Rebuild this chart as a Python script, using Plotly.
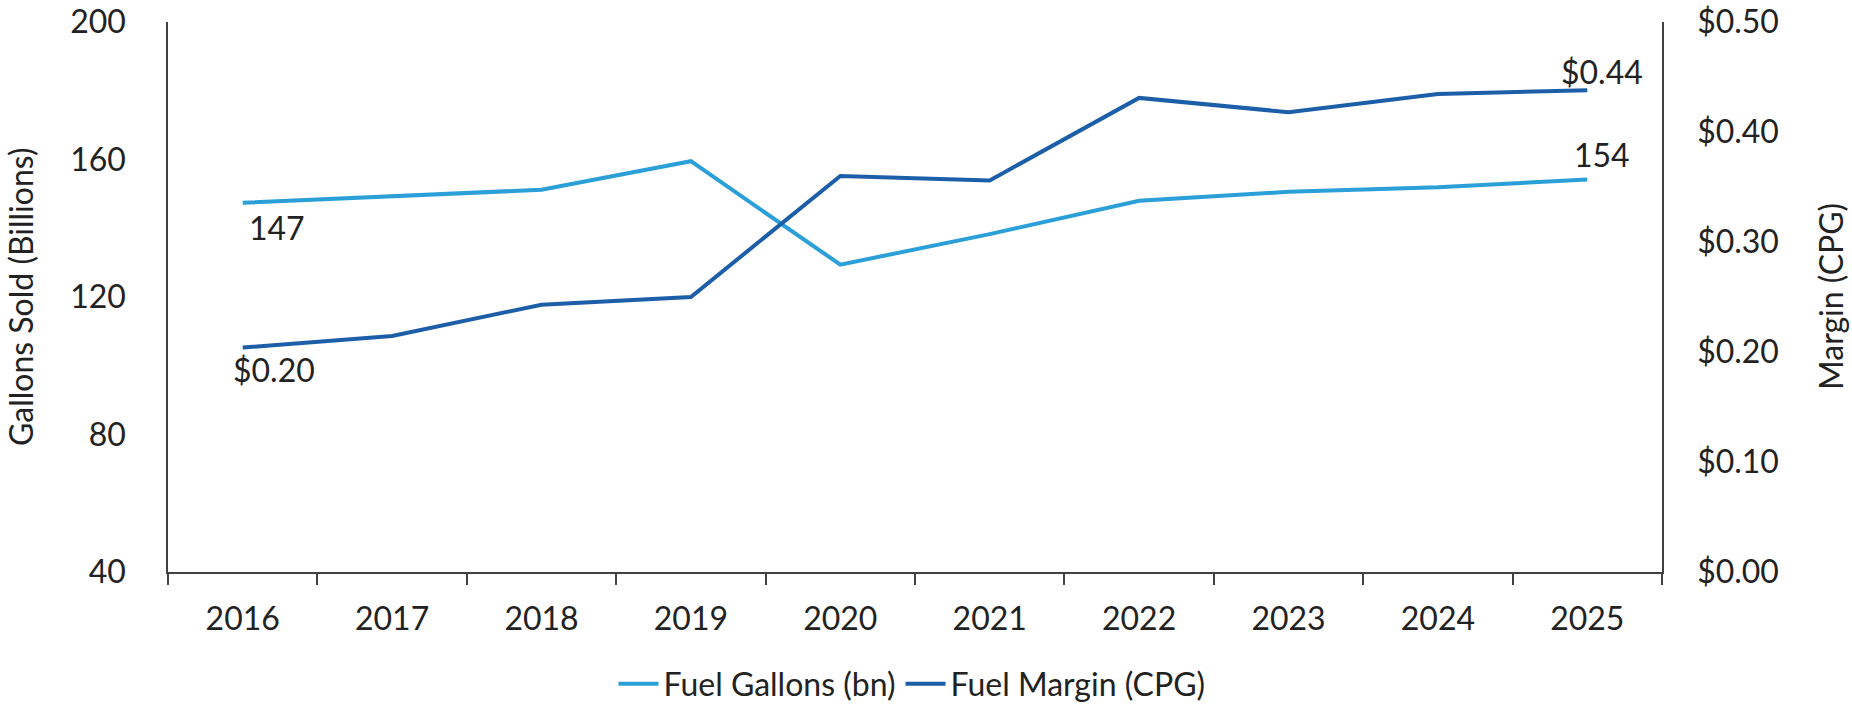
import plotly.graph_objects as go

years = ["2016", "2017", "2018", "2019", "2020", "2021", "2022", "2023", "2024", "2025"]
fuel_gallons_bn = [147.4, 149.4, 151.2, 159.5, 129.4, 138.3, 148.0, 150.6, 151.9, 154.2]
fuel_margin_cpg = [0.204, 0.2145, 0.243, 0.250, 0.360, 0.356, 0.431, 0.418, 0.4345, 0.438]

gallon_left_ticks = [40, 80, 120, 160, 200]
margin_right_ticks = [0.0, 0.1, 0.2, 0.3, 0.4, 0.5]
margin_right_labels = [f"${v:.2f}" for v in margin_right_ticks]

LIGHT = "#2A9FD8"
DARK = "#1C5FA8"
TXT = "#222222"
AXC = "#404040"
FONT = "Lato"

W, H = 1852, 708
ML, MR, MT, MB = 168, 190, 22, 136
PW = W - ML - MR
PH = H - MT - MB

fig = go.Figure()
fig.add_trace(go.Scatter(x=years, y=fuel_gallons_bn, name="Fuel Gallons (bn)",
                         mode="lines", line=dict(color=LIGHT, width=4), yaxis="y"))
fig.add_trace(go.Scatter(x=years, y=fuel_margin_cpg, name="Fuel Margin (CPG)",
                         mode="lines", line=dict(color=DARK, width=4), yaxis="y2"))

first, last = 0, len(years) - 1
lab_font = dict(family=FONT, size=32, color=TXT)
fig.add_annotation(x=first, y=fuel_gallons_bn[first], yref="y", text=f"{fuel_gallons_bn[first]:.0f}",
                   showarrow=False, xanchor="left", yanchor="middle", xshift=4, yshift=-25, font=lab_font)
fig.add_annotation(x=last, y=fuel_gallons_bn[last], yref="y", text=f"{fuel_gallons_bn[last]:.0f}",
                   showarrow=False, xanchor="center", yanchor="middle", xshift=15, yshift=25, font=lab_font)
fig.add_annotation(x=first, y=fuel_margin_cpg[first], yref="y2", text=f"${fuel_margin_cpg[first]:.2f}",
                   showarrow=False, xanchor="left", yanchor="middle", xshift=-12, yshift=-22, font=lab_font)
fig.add_annotation(x=last, y=fuel_margin_cpg[last], yref="y2", text=f"${fuel_margin_cpg[last]:.2f}",
                   showarrow=False, xanchor="center", yanchor="middle", xshift=15, yshift=19, font=lab_font)

# axis titles
fig.add_annotation(xref="paper", yref="paper", x=(20 - ML) / PW, y=0.5,
                   text="Gallons Sold (Billions)", textangle=-90, showarrow=False,
                   xanchor="center", yanchor="middle",
                   font=dict(family=FONT, size=32, color=TXT))
fig.add_annotation(xref="paper", yref="paper", x=(1830 - ML) / PW, y=0.5,
                   text="Margin (CPG)", textangle=-90, showarrow=False,
                   xanchor="center", yanchor="middle",
                   font=dict(family=FONT, size=32, color=TXT))

fig.update_layout(
    width=W, height=H,
    margin=dict(l=ML, r=MR, t=MT, b=MB, pad=0, autoexpand=False),
    paper_bgcolor="white", plot_bgcolor="white",
    font=dict(family=FONT, size=32, color=TXT),
    showlegend=True,
    legend=dict(orientation="h", x=(912 - ML) / PW, xanchor="center",
                y=(PH - (684 - MT)) / PH, yanchor="middle",
                font=dict(family=FONT, size=32, color=TXT),
                itemwidth=40, tracegroupgap=0, bgcolor="rgba(0,0,0,0)"),
    xaxis=dict(type="category", range=[-0.5, len(years) - 0.5], autorange=False,
               showgrid=False, showline=True, linecolor=AXC, linewidth=1.5,
               ticks="outside", tickson="boundaries", ticklen=11, tickcolor=AXC, tickwidth=1.5,
               ticklabelstandoff=18, tickangle=0, tickfont=dict(family=FONT, size=32, color=TXT),
               zeroline=False),
    yaxis=dict(range=[40, 200], tickvals=gallon_left_ticks, showgrid=False, zeroline=False,
               showline=True, linecolor=AXC, linewidth=1.5, ticks="",
               ticklabelstandoff=34, tickfont=dict(family=FONT, size=32, color=TXT)),
    yaxis2=dict(range=[0, 0.5], tickvals=margin_right_ticks, ticktext=margin_right_labels,
                overlaying="y", side="right", showgrid=False, zeroline=False,
                showline=True, linecolor=AXC, linewidth=1.5, ticks="",
                ticklabelstandoff=27, tickfont=dict(family=FONT, size=32, color=TXT)),
)

fig.write_html("out.html")
